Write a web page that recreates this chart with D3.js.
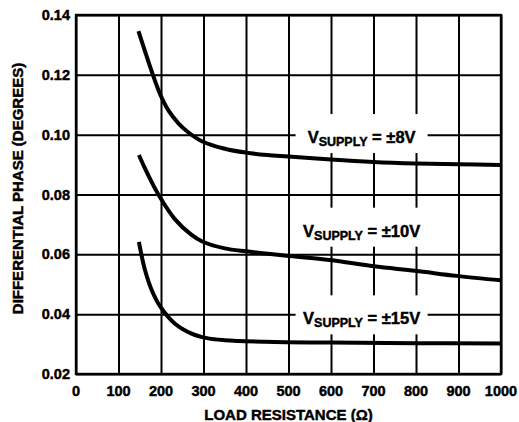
<!DOCTYPE html>
<html>
<head>
<meta charset="utf-8">
<script src="https://cdn.jsdelivr.net/npm/d3@7"></script>
<style>
  html, body { margin: 0; padding: 0; background: #fff; }
  svg { display: block; }
  text { font-family: "Liberation Sans", Arial, sans-serif; font-weight: bold; fill: #000; stroke: #000; stroke-width: 0.45px; }
</style>
</head>
<body>
<svg id="chart" width="519" height="422"></svg>
<script>
// ---- data ----
const xTicks = [0, 100, 200, 300, 400, 500, 600, 700, 800, 900, 1000];
const yTicks = [0.02, 0.04, 0.06, 0.08, 0.10, 0.12, 0.14];
const yTickLabels = ["0.02", "0.04", "0.06", "0.08", "0.10", "0.12", "0.14"];

const resistance8 = [147, 162, 178, 198, 217, 241, 264, 296, 350, 400, 450, 500, 600, 700, 800, 900, 1000];
const phase8 =      [0.1346, 0.1280, 0.1212, 0.1135, 0.1082, 0.1038, 0.1008, 0.0978, 0.0953, 0.0940, 0.0932, 0.0927, 0.0917, 0.0909, 0.0904, 0.0901, 0.0899];

const resistance10 = [148, 162, 174, 198, 233, 272, 297, 350, 400, 445, 496, 597, 701, 798, 896, 1000];
const phase10 =      [0.0932, 0.0888, 0.0853, 0.0790, 0.0717, 0.0665, 0.0643, 0.0620, 0.0610, 0.0603, 0.0595, 0.0581, 0.0560, 0.0545, 0.0528, 0.0513];

const resistance15 = [148, 162, 178, 198, 233, 272, 311, 350, 445, 600, 800, 1000];
const phase15 =      [0.0642, 0.0549, 0.0481, 0.0426, 0.0368, 0.0335, 0.0319, 0.0313, 0.0308, 0.0305, 0.0303, 0.0302];

const seriesNames = ["±8V", "±10V", "±15V"];
const labelX = [672, 672, 672];
const labelBaseline = [0.0972, 0.0659, 0.0366];

const xTitle = "LOAD RESISTANCE (Ω)";
const yTitle = "DIFFERENTIAL PHASE (DEGREES)";

// ---- drawing ----
const svg = d3.select("#chart");
const margin = { left: 76, right: 18, top: 15, bottom: 48 };
const W = 519, H = 422;

const x = d3.scaleLinear().domain([0, 1000]).range([margin.left, W - margin.right]);
const y = d3.scaleLinear().domain([0.02, 0.14]).range([H - margin.bottom, margin.top]);

// grid
const grid = svg.append("g");
grid.append("g")
  .attr("transform", `translate(0,${y(0.02)})`)
  .call(d3.axisBottom(x).tickValues(xTicks).tickSize(-(y(0.02) - y(0.14))).tickFormat(""))
  .call(g => g.select(".domain").remove())
  .call(g => g.selectAll("line").attr("stroke", "#000").attr("stroke-width", 2));
grid.append("g")
  .attr("transform", `translate(${x(0)},0)`)
  .call(d3.axisLeft(y).tickValues(yTicks).tickSize(-(x(1000) - x(0))).tickFormat(""))
  .call(g => g.select(".domain").remove())
  .call(g => g.selectAll("line").attr("stroke", "#000").attr("stroke-width", 2));

// frame
svg.append("rect")
  .attr("x", x(0)).attr("y", y(0.14))
  .attr("width", x(1000) - x(0)).attr("height", y(0.02) - y(0.14))
  .attr("fill", "none").attr("stroke", "#000").attr("stroke-width", 2.4);

// label gaps (white patches breaking the grid)
const labelG = svg.append("g");
seriesNames.forEach((name, i) => {
  const cx = x(labelX[i]);
  const by = y(labelBaseline[i]);
  labelG.append("rect")
    .attr("x", cx - 66).attr("y", by - 29)
    .attr("width", 132).attr("height", 39)
    .attr("fill", "#fff");
});

// curves
const line = d3.line().x(d => x(d[0])).y(d => y(d[1])).curve(d3.curveCatmullRom.alpha(0.5));
const curves = [
  d3.zip(resistance8, phase8),
  d3.zip(resistance10, phase10),
  d3.zip(resistance15, phase15)
];
svg.append("g").selectAll("path").data(curves).join("path")
  .attr("d", line)
  .attr("fill", "none").attr("stroke", "#000").attr("stroke-width", 4)
  .attr("stroke-linecap", "butt");

// labels
seriesNames.forEach((name, i) => {
  const t = labelG.append("text")
    .attr("x", x(labelX[i])).attr("y", y(labelBaseline[i]))
    .attr("text-anchor", "middle")
    .style("font-size", "16.5px");
  t.append("tspan").text("V");
  t.append("tspan").attr("dy", 3).style("font-size", "12.5px").text("SUPPLY");
  t.append("tspan").attr("dy", -3).text(" = " + name);
});

// tick labels
svg.append("g").selectAll("text").data(xTicks).join("text")
  .attr("x", d => x(d)).attr("y", 396)
  .attr("text-anchor", "middle")
  .style("font-size", "14.5px")
  .text(d => d);
svg.append("g").selectAll("text").data(yTicks).join("text")
  .attr("x", x(0) - 6).attr("y", d => y(d) + 5)
  .attr("text-anchor", "end")
  .style("font-size", "14.5px")
  .text((d, i) => yTickLabels[i]);

// axis titles
svg.append("text")
  .attr("x", (x(0) + x(1000)) / 2).attr("y", 420)
  .attr("text-anchor", "middle")
  .style("font-size", "15px")
  .text(xTitle);
svg.append("text")
  .attr("transform", "translate(23,188.5) rotate(-90)")
  .attr("text-anchor", "middle")
  .style("font-size", "15px")
  .text(yTitle);
</script>
</body>
</html>
